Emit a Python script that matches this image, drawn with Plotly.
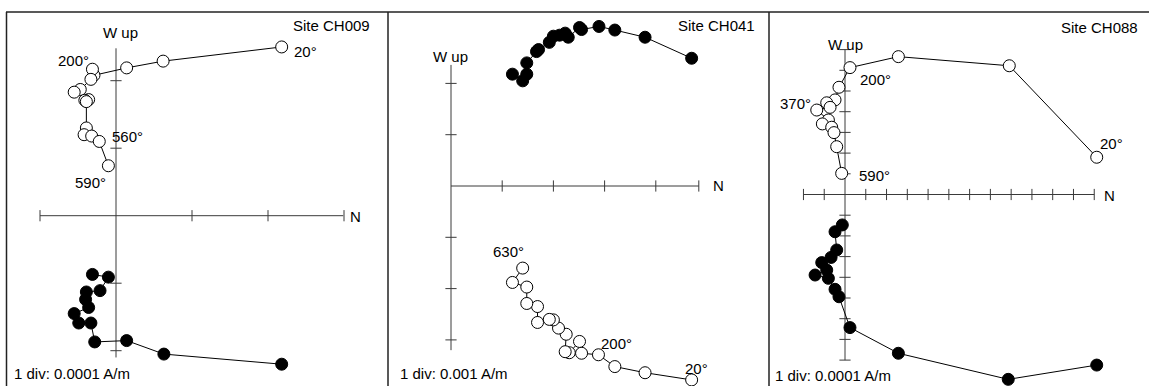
import plotly.graph_objects as go

W, H = 1149, 386

# ---------------- data (in axis divisions) ----------------
# Site CH009  (1 div = 0.0001 A/m)
ch009_open_n = [2.18, 0.62, 0.14, -0.29, -0.31, -0.33, -0.47, -0.55, -0.36, -0.41, -0.39, -0.39, -0.42, -0.32, -0.22, -0.10]
ch009_open_up = [2.50, 2.29, 2.19, 2.08, 2.17, 2.02, 1.87, 1.83, 1.72, 1.71, 1.69, 1.30, 1.20, 1.18, 1.10, 0.74]
ch009_fill_n = [2.18, 0.63, 0.14, -0.28, -0.33, -0.49, -0.55, -0.36, -0.40, -0.39, -0.21, -0.10, -0.31]
ch009_fill_e = [-2.20, -2.05, -1.85, -1.87, -1.59, -1.59, -1.45, -1.36, -1.24, -1.13, -1.11, -0.91, -0.87]

# Site CH041  (1 div = 0.001 A/m)
ch041_fill_n = [4.70, 3.79, 3.20, 2.89, 2.55, 2.51, 2.29, 2.23, 2.12, 2.00, 1.92, 1.71, 1.67, 1.48, 1.48, 1.40, 1.20]
ch041_fill_e = [2.49, 2.90, 3.04, 3.11, 3.05, 3.09, 2.90, 2.98, 2.94, 2.92, 2.80, 2.66, 2.62, 2.40, 2.18, 2.05, 2.18]
ch041_open_n = [4.70, 3.79, 3.20, 2.88, 2.55, 2.51, 2.31, 2.23, 2.25, 2.10, 2.00, 1.92, 1.69, 1.69, 1.48, 1.48, 1.20, 1.40]
ch041_open_up = [-3.78, -3.64, -3.52, -3.29, -3.26, -3.03, -3.25, -3.23, -2.89, -2.77, -2.61, -2.60, -2.66, -2.35, -2.29, -1.97, -1.88, -1.60]

# Site CH088  (1 div = 0.0001 A/m)
ch088_open_n = [12.12, 7.91, 2.57, 0.24, -0.29, -0.48, -0.88, -0.72, -1.36, -0.80, -1.09, -0.64, -0.53, -0.40, -0.16]
ch088_open_up = [1.80, 6.22, 6.66, 6.13, 5.18, 4.57, 4.43, 4.21, 4.08, 3.60, 3.41, 3.25, 2.99, 2.31, 1.02]
ch088_fill_n = [12.12, 7.86, 2.57, 0.24, -0.29, -0.48, -0.80, -1.44, -0.88, -1.12, -0.67, -0.40, -0.48, -0.13]
ch088_fill_e = [-8.24, -8.93, -7.67, -6.43, -4.94, -4.58, -4.05, -3.89, -3.65, -3.29, -3.04, -2.68, -1.80, -1.47]

# axis extents and tick positions (divisions)
ch009_h_ticks = [-1, 1, 2, 3]
ch009_v_ticks = [-2, -1, 1, 2]
ch041_h_ticks = [1, 2, 3, 4, 4.84]
ch041_v_ticks = [-3, -2, -1, 1, 2]
ch088_h_ticks = [-2, -1, 1, 2, 3, 4, 5, 6, 7, 8, 9, 10, 11, 12]
ch088_v_ticks = [-8, -7, -6, -5, -4, -3, -2, -1, 1, 2, 3, 4, 5, 6, 7]

panels = [
    dict(site="Site CH009", scale="1 div: 0.0001 A/m",
         open=(ch009_open_n, ch009_open_up), fill=(ch009_fill_n, ch009_fill_e),
         hticks=ch009_h_ticks, vticks=ch009_v_ticks,
         hext=(-1, 2.99), vext=(-2.1, 2.48),
         ox=116, sx=76, oy=215.7, sy=67.5, left=0, right=388,
         labels=[("20°", 305, 51), ("200°", 73.5, 60), ("560°", 127.5, 137), ("590°", 90.5, 182)],
         site_xy=(331.5, 25), wup_xy=(120, 33), n_xy=(355, 216.5), scale_xy=(12, 373)),
    dict(site="Site CH041", scale="1 div: 0.001 A/m",
         open=(ch041_open_n, ch041_open_up), fill=(ch041_fill_n, ch041_fill_e),
         hticks=ch041_h_ticks, vticks=ch041_v_ticks,
         hext=(0, 4.84), vext=(-3.2, 2.36),
         ox=451, sx=51.2, oy=186, sy=51.3, left=388, right=769,
         labels=[("630°", 508, 251), ("200°", 616, 343), ("20°", 696, 368)],
         site_xy=(716, 25), wup_xy=(450, 57), n_xy=(718, 186), scale_xy=(398, 373)),
    dict(site="Site CH088", scale="1 div: 0.0001 A/m",
         open=(ch088_open_n, ch088_open_up), fill=(ch088_fill_n, ch088_fill_e),
         hticks=ch088_h_ticks, vticks=ch088_v_ticks,
         hext=(-2, 12), vext=(-8, 7),
         ox=845, sx=20.77, oy=194.5, sy=20.7, left=769, right=W,
         labels=[("200°", 875, 80), ("370°", 795, 103), ("20°", 1111, 143), ("590°", 874, 175)],
         site_xy=(1099, 27), wup_xy=(845, 45), n_xy=(1109, 195), scale_xy=(773, 375)),
]

FONT = "Arial, Liberation Sans, sans-serif"
AX_COL = "#3a3a3a"
fig = go.Figure()
shapes = []
annotations = []


def ann(text, px, py, xanchor="center"):
    annotations.append(dict(text=text, x=px / W, y=1 - py / H, xref="paper", yref="paper",
                            xanchor=xanchor, yanchor="middle", showarrow=False,
                            font=dict(family=FONT, size=15, color="black")))


layout_axes = {}
for i, p in enumerate(panels, start=1):
    xa = "x" if i == 1 else f"x{i}"
    ya = "y" if i == 1 else f"y{i}"
    xr = [(p["left"] - p["ox"]) / p["sx"], (p["right"] - p["ox"]) / p["sx"]]
    yr = [(p["oy"] - H) / p["sy"], p["oy"] / p["sy"]]
    xkey = "xaxis" if i == 1 else f"xaxis{i}"
    ykey = "yaxis" if i == 1 else f"yaxis{i}"
    layout_axes[xkey] = dict(domain=[p["left"] / W, p["right"] / W], range=xr, visible=False,
                             fixedrange=True, anchor=ya)
    layout_axes[ykey] = dict(domain=[0, 1], range=yr, visible=False, fixedrange=True, anchor=xa)

    # axis lines
    shapes.append(dict(type="line", xref=xa, yref=ya, x0=p["hext"][0], x1=p["hext"][1], y0=0, y1=0,
                       line=dict(color=AX_COL, width=1), layer="below"))
    shapes.append(dict(type="line", xref=xa, yref=ya, x0=0, x1=0, y0=p["vext"][0], y1=p["vext"][1],
                       line=dict(color=AX_COL, width=1), layer="below"))
    # ticks
    fig.add_trace(go.Scatter(x=p["hticks"], y=[0] * len(p["hticks"]), mode="markers", xaxis=xa, yaxis=ya,
                             marker=dict(symbol="line-ns", size=8, line=dict(width=1, color=AX_COL)),
                             hoverinfo="skip", showlegend=False))
    fig.add_trace(go.Scatter(x=[0] * len(p["vticks"]), y=p["vticks"], mode="markers", xaxis=xa, yaxis=ya,
                             marker=dict(symbol="line-ew", size=8, line=dict(width=1, color=AX_COL)),
                             hoverinfo="skip", showlegend=False))
    # data
    fig.add_trace(go.Scatter(x=p["fill"][0], y=p["fill"][1], mode="lines+markers", xaxis=xa, yaxis=ya,
                             line=dict(color="black", width=1),
                             marker=dict(symbol="circle", size=12, color="black", line=dict(width=1, color="black")),
                             showlegend=False, cliponaxis=False))
    fig.add_trace(go.Scatter(x=p["open"][0], y=p["open"][1], mode="lines+markers", xaxis=xa, yaxis=ya,
                             line=dict(color="black", width=1),
                             marker=dict(symbol="circle", size=12, color="white", line=dict(width=1, color="black")),
                             showlegend=False, cliponaxis=False))

    ann(p["site"], *p["site_xy"])
    ann("W up", *p["wup_xy"])
    ann("N", *p["n_xy"])
    ann(p["scale"], *p["scale_xy"], xanchor="left")
    for t, lx, ly in p["labels"]:
        ann(t, lx, ly)

# frame lines
BORDER = "#222222"
shapes.append(dict(type="line", xref="paper", yref="paper", x0=6 / W, x1=1, y0=1 - 12 / H, y1=1 - 12 / H,
                   line=dict(color=BORDER, width=1.5)))
for bx in (6.5, 388, 769):
    shapes.append(dict(type="line", xref="paper", yref="paper", x0=bx / W, x1=bx / W, y0=0, y1=1 - 12 / H,
                       line=dict(color=BORDER, width=1.5)))

fig.update_layout(width=W, height=H, margin=dict(l=0, r=0, t=0, b=0),
                  paper_bgcolor="white", plot_bgcolor="white",
                  shapes=shapes, annotations=annotations, **layout_axes)

fig.write_html("out.html", config={"displayModeBar": False})
